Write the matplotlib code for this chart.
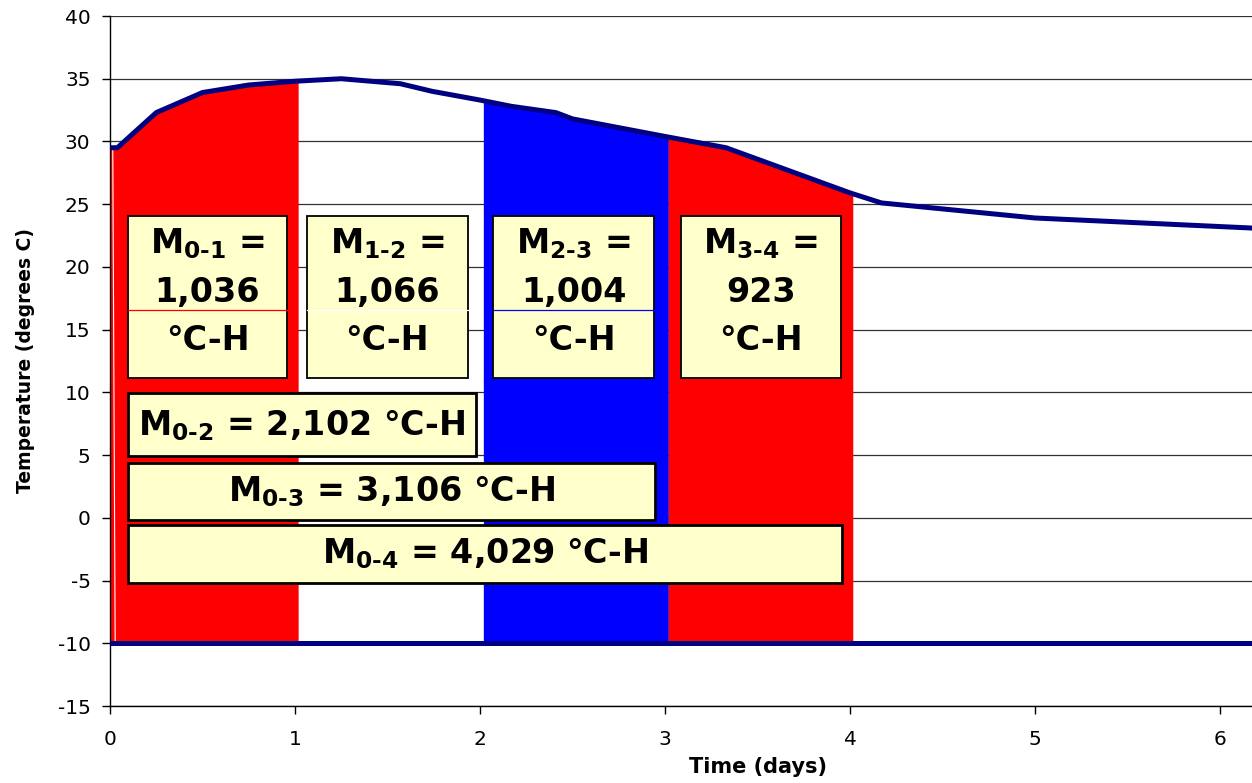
import numpy as np
import matplotlib
matplotlib.use("Agg")
import matplotlib.pyplot as plt
from matplotlib.patches import Rectangle

# ---------------- data ----------------
time_days = [0.0, 0.04, 0.25, 0.5, 0.75, 1.0, 1.25, 1.57, 1.74, 2.0, 2.17, 2.41,
             2.5, 3.0, 3.33, 4.0, 4.17, 5.0, 6.17]
temperature = [29.5, 29.5, 32.3, 33.9, 34.5, 34.8, 35.0, 34.6, 34.0, 33.3, 32.8,
               32.3, 31.8, 30.4, 29.5, 25.9, 25.1, 23.9, 23.1]
datum_temp = -10
interval_edges = [(0.0, 1.017), (2.018, 3.018), (3.018, 4.015)]
interval_colors = ["#FF0000", "#0000FF", "#FF0000"]

maturity_labels = ["0-1", "1-2", "2-3", "3-4"]
maturity_values = ["1,036", "1,066", "1,004", "923"]
cumulative_labels = ["0-2", "0-3", "0-4"]
cumulative_values = ["2,102", "3,106", "4,029"]

x_ticks = [0, 1, 2, 3, 4, 5, 6]
y_ticks = list(range(-15, 41, 5))

# ---------------- style ----------------
plt.rcParams['font.family'] = ['DejaVu Sans']
plt.rcParams['axes.unicode_minus'] = False
plt.rcParams['mathtext.fontset'] = 'custom'
plt.rcParams['mathtext.rm'] = 'DejaVu Sans:bold'
plt.rcParams['mathtext.it'] = 'DejaVu Sans:bold'
plt.rcParams['mathtext.bf'] = 'DejaVu Sans:bold'
plt.rcParams['mathtext.default'] = 'rm'

W, H = 1252, 783
fig = plt.figure(figsize=(W / 100, H / 100), dpi=100)
ax = fig.add_axes([110 / W, 77 / H, 1142 / W, 690 / H])

x = np.array(time_days)
y = np.array(temperature)

# coloured maturity areas
for (a, b), c in zip(interval_edges, interval_colors):
    inner = x[(x > a) & (x < b)]
    xs = np.concatenate([[a], inner, [b]])
    ys = np.interp(xs, x, y)
    ax.fill_between(xs, datum_temp, ys, color=c, lw=0, zorder=1)

# thin white sliver near start
ax.plot([0.015, 0.028], [29.3, datum_temp], color="white", lw=0.8, zorder=2)

# temperature history and datum line
ax.plot(x, y, color="#000080", lw=3.6, zorder=3, solid_joinstyle="round")
ax.axhline(datum_temp, color="#000080", lw=3.6, zorder=3)

ax.set_xlim(0, 1142 / 185)
ax.set_ylim(-15, 40)
ax.set_xticks(x_ticks)
ax.set_yticks(y_ticks)
ax.yaxis.grid(True, color="#333333", lw=0.9)
ax.set_axisbelow(True)
for s in ["top", "right"]:
    ax.spines[s].set_visible(False)
for s in ["left", "bottom"]:
    ax.spines[s].set_color("black")
    ax.spines[s].set_linewidth(1.0)
ax.tick_params(axis="both", direction="out", length=6, width=1, labelsize=14.5,
               colors="black")
ax.tick_params(axis="y", pad=8)
ax.tick_params(axis="x", pad=11)

ax.set_xlabel("Time (days)", fontsize=15, fontweight="bold")
ax.xaxis.set_label_coords(0.567, -0.0884)
ax.xaxis.label.set_va("center")
ax.set_ylabel("Temperature (degrees C)", fontsize=13.5, fontweight="bold")
ax.yaxis.set_label_coords(-0.0744, 0.501)
ax.yaxis.label.set_va("center")

box_fc = "#FFFFCC"
tkw = dict(fontsize=24, fontweight="bold", ha="center", va="baseline", zorder=6,
           color="black")

# upper boxes (individual intervals)
upper_x = [(0.099, 0.955), (1.065, 1.934), (2.072, 2.942), (3.086, 3.950)]
ub_top, ub_bot = 24.06, 11.12
line_cols = ["#FF0000", "#FFFFFF", "#0000FF", None]
for (x0, x1), lab, val, lc in zip(upper_x, maturity_labels, maturity_values, line_cols):
    ax.add_patch(Rectangle((x0, ub_bot), x1 - x0, ub_top - ub_bot, fc=box_fc,
                           ec="black", lw=1.3, zorder=4))
    if lc is not None:
        ax.plot([x0, x1], [16.56, 16.56], color=lc, lw=0.9, zorder=5)
    cx = (x0 + x1) / 2
    ax.text(cx, 21.11, "M$_{" + lab.replace("-", r"\text{-}") + "}$ =", **tkw)
    ax.text(cx, 17.23, val, **tkw)
    ax.text(cx, 13.38, "°C-H", **tkw)

# lower boxes (cumulative)
lower_boxes = [(0.0995, 1.976, 9.92, 4.93), (0.0995, 2.946, 4.39, -0.18),
               (0.0995, 3.955, -0.57, -5.22)]
baselines = [40 - (435 - 16) / 12.545, 40 - (501.7 - 16) / 12.545,
             40 - (563 - 16) / 12.545]
for (x0, x1, yt, yb), lab, val, bl in zip(lower_boxes, cumulative_labels,
                                          cumulative_values, baselines):
    ax.add_patch(Rectangle((x0, yb), x1 - x0, yt - yb, fc=box_fc, ec="black",
                           lw=2.0, zorder=4))
    ax.text((x0 + x1) / 2, bl,
            "M$_{" + lab.replace("-", r"\text{-}") + "}$ = " + val + " °C-H", **tkw)

fig.savefig("out.png", dpi=100)
